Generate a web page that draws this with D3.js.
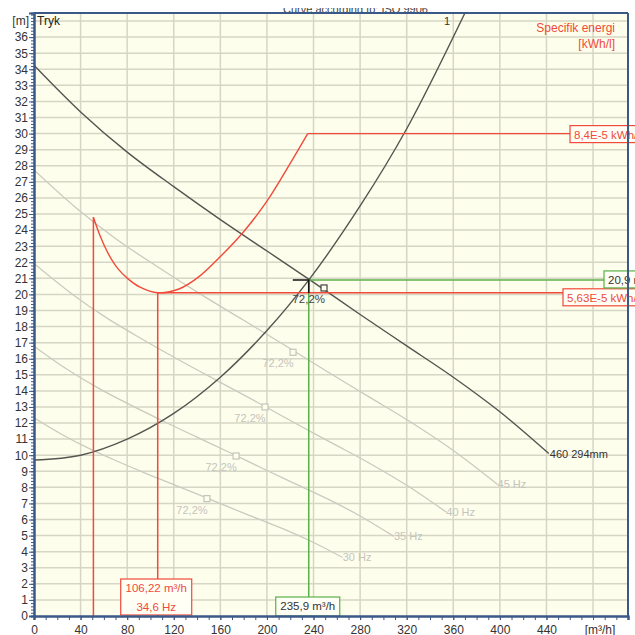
<!DOCTYPE html>
<html><head><meta charset="utf-8">
<script src="https://cdn.jsdelivr.net/npm/d3@7"></script>
<style>
html,body{margin:0;padding:0;background:#fff;}
svg{display:block;font-family:"Liberation Sans",Arial,sans-serif;}
</style></head>
<body><svg id="c" width="635" height="635"></svg>
<script>
// ---- data ----
const xTicks = [0,40,80,120,160,200,240,280,320,360,400,440];
const yTicks = d3.range(0,37);
const pumpQ = [0,40,80,120,160,200,240,280,320,360,400,442];
const pumpH = [34.25,31.35,28.85,26.7,24.65,22.7,20.75,18.75,16.8,14.85,12.7,10.1];
const f45Q = [0,36,72,108,144,180,216,252,288,324,360,398];
const f45H = [27.74,25.39,23.37,21.63,19.97,18.39,16.81,15.19,13.61,12.03,10.29,8.18];
const f40Q = [0,32,64,96,128,160,192,224,256,288,320,354];
const f40H = [21.92,20.06,18.46,17.09,15.78,14.53,13.28,12.0,10.75,9.5,8.13,6.46];
const f35Q = [0,28,56,84,112,140,168,196,224,252,280,309];
const f35H = [16.78,15.36,14.14,13.08,12.08,11.12,10.17,9.19,8.23,7.28,6.22,4.95];
const f30Q = [0,24,48,72,96,120,144,168,192,216,240,265];
const f30H = [12.33,11.29,10.39,9.61,8.87,8.17,7.47,6.75,6.05,5.35,4.57,3.64];
const freqLabels = ["45 Hz","40 Hz","35 Hz","30 Hz"];
const sysQ = [0,40,80,120,160,200,236,280,320,370];
const sysH = [9.7,10.0,11.0,12.6,14.85,17.75,20.9,25.5,30.3,37.5];
const energyQ = [51,57,64,72,81,91,106.22,125,142.5,160,180,200,220,235];
const energyH = [24.8,23.6,22.5,21.6,20.95,20.45,20.1,20.35,21.15,22.35,23.9,25.8,28.15,30.0];
const energyMaxH = 30.0, energyMaxLabel = "8,4E-5 kWh/l";
const minQ = 106.22, minH = 20.1, minLabel1 = "106,22 m³/h", minLabel2 = "34,6 Hz", minEnergyLabel = "5,63E-5 kWh/l";
const startQ = 51;
const opQ = 235.9, opH = 20.9, opQLabel = "235,9 m³/h", opHLabel = "20,9 m";
const bepQ = [249,222.4,198.3,173.5,148.5];
const bepH = [20.4,16.4,13.0,9.95,7.3];
const bepLabel = "72,2%";

// ---- scales ----
const svg = d3.select("#c");
const x = d3.scaleLinear().domain([0,510]).range([34,628]);
const y = d3.scaleLinear().domain([0,37.5]).range([616,13]);
const X0 = x.range()[0], X1 = x.range()[1], Y0 = y.range()[0], Y1 = y.range()[1];

// title (cut at the top)
svg.append("clipPath").attr("id","tclip").append("rect").attr("x",0).attr("y",8).attr("width",635).attr("height",5);
svg.append("text").attr("clip-path","url(#tclip)").attr("x",283).attr("y",13)
  .attr("font-size",11).attr("fill","#444").text("Curve according to: ISO 9906");

// plot background
svg.append("rect").attr("x",X0).attr("y",Y1).attr("width",X1-X0).attr("height",Y0-Y1).attr("fill","#fefeec");

// grid
const grid = svg.append("g").attr("stroke","#d6d6c6").attr("stroke-width",1.5);
yTicks.concat([37]).forEach(v=>{ if(v>0) grid.append("line").attr("x1",X0).attr("x2",X1).attr("y1",y(v)).attr("y2",y(v)); });
d3.range(40,510,40).forEach(v=>grid.append("line").attr("x1",x(v)).attr("x2",x(v)).attr("y1",Y1).attr("y2",Y0));

svg.append("clipPath").attr("id","pclip").append("rect").attr("x",X0).attr("y",Y1).attr("width",X1-X0).attr("height",Y0-Y1);
const plot = svg.append("g").attr("clip-path","url(#pclip)");

const zip = (a,b)=>a.map((v,i)=>[v,b[i]]);
const lineC = d3.line().x(d=>x(d[0])).y(d=>y(d[1])).curve(d3.curveCatmullRom.alpha(0.5));

// frequency curves
const freqSets = [[f45Q,f45H],[f40Q,f40H],[f35Q,f35H],[f30Q,f30H]];
freqSets.forEach(([q,h],i)=>{
  plot.append("path").attr("d",lineC(zip(q,h))).attr("fill","none").attr("stroke","#cacac0").attr("stroke-width",1.3);
  svg.append("text").attr("x",x(q[q.length-1])).attr("y",y(h[h.length-1])+4).attr("font-size",11)
    .attr("fill","#c4c4bc").text(freqLabels[i]);
});

// pump curve
plot.append("path").attr("d",lineC(zip(pumpQ,pumpH))).attr("fill","none").attr("stroke","#555550").attr("stroke-width",1.4);
svg.append("text").attr("x",x(pumpQ[pumpQ.length-1])+1).attr("y",y(pumpH[pumpH.length-1])+4).attr("font-size",11)
  .attr("fill","#333").text("460 294mm");

// system curve
plot.append("path").attr("d",lineC(zip(sysQ,sysH))).attr("fill","none").attr("stroke","#555550").attr("stroke-width",1.4);
svg.append("text").attr("x",447).attr("y",25).attr("font-size",11).attr("fill","#333").attr("text-anchor","middle").text("1");

// BEP squares and labels
bepQ.forEach((q,i)=>{
  const c = i===0 ? "#444" : "#c4c4bc";
  svg.append("rect").attr("x",x(q)-3).attr("y",y(bepH[i])-3).attr("width",6).attr("height",6)
    .attr("fill","#fefeec").attr("stroke",c).attr("stroke-width",1.2);
  if(i>0) svg.append("text").attr("x",x(q)-15).attr("y",y(bepH[i])+15).attr("text-anchor","middle").attr("font-size",11)
    .attr("fill",c).text(bepLabel);
});

// green operating lines
const green = "#5cb04a", red = "#f04a3a";
plot.append("line").attr("x1",x(opQ)).attr("x2",x(opQ)).attr("y1",y(opH)).attr("y2",Y0).attr("stroke",green).attr("stroke-width",1.5);
plot.append("line").attr("x1",x(opQ)).attr("x2",X1).attr("y1",y(opH)).attr("y2",y(opH)).attr("stroke",green).attr("stroke-width",1.5);

// red energy curve and lines
plot.append("path").attr("d",lineC(zip(energyQ,energyH))).attr("fill","none").attr("stroke",red).attr("stroke-width",1.4);
plot.append("line").attr("x1",x(energyQ[energyQ.length-1])).attr("x2",X1).attr("y1",y(energyMaxH)).attr("y2",y(energyMaxH)).attr("stroke",red).attr("stroke-width",1.4);
plot.append("line").attr("x1",x(startQ)).attr("x2",x(startQ)).attr("y1",y(energyH[0])).attr("y2",Y0).attr("stroke",red).attr("stroke-width",1.5);
plot.append("line").attr("x1",x(minQ)).attr("x2",x(minQ)).attr("y1",y(minH)).attr("y2",Y0).attr("stroke",red).attr("stroke-width",1.5);
plot.append("line").attr("x1",x(minQ)).attr("x2",X1).attr("y1",y(minH)).attr("y2",y(minH)).attr("stroke",red).attr("stroke-width",1.5);

// operating point marker
svg.append("path").attr("d",`M${x(opQ)-16},${y(opH)} H${x(opQ)} V${y(opH)+13}`).attr("fill","none").attr("stroke","#111").attr("stroke-width",1.6);
svg.append("text").attr("x",x(opQ)).attr("y",y(opH)+23).attr("text-anchor","middle").attr("font-size",11.5).attr("fill","#444").text(bepLabel);

// label boxes
function box(x0,y0,w,h,col,lines,anchor,tcol){
  svg.append("rect").attr("x",x0).attr("y",y0).attr("width",w).attr("height",h).attr("fill","#fffff6").attr("stroke",col).attr("stroke-width",1.2);
  lines.forEach((t,i)=>{
    const tx = anchor==="middle" ? x0+w/2 : x0+4;
    svg.append("text").attr("x",tx).attr("y",y0+13+i*19).attr("text-anchor",anchor).attr("font-size",11.5).attr("fill",tcol).text(t);
  });
}
box(570,y(energyMaxH)-8,80,17,red,[energyMaxLabel],"start",red);
box(563,y(minH)-4,80,17,red,[minEnergyLabel],"start",red);
box(604,y(opH)-9,50,17,green,[opHLabel],"start","#333");
box(x(minQ)-37,579,71,36,red,[minLabel1,minLabel2],"middle",red);
box(x(opQ)-33,597,64,19,green,[opQLabel],"middle","#333");

// texts in plot
svg.append("text").attr("x",37).attr("y",25).attr("font-size",12).attr("fill","#222").text("Tryk");
svg.append("text").attr("x",615).attr("y",32).attr("text-anchor","end").attr("font-size",12).attr("fill",red).text("Specifik energi");
svg.append("text").attr("x",615).attr("y",48).attr("text-anchor","end").attr("font-size",12).attr("fill",red).text("[kWh/l]");

// axes
const axCol = "#3a5888";
const yMinor = svg.append("g").attr("transform",`translate(${X0},0)`)
  .call(d3.axisLeft(y).tickValues(d3.range(0,37.5,0.2)).tickSize(3).tickFormat(""));
const yAx = svg.append("g").attr("transform",`translate(${X0},0)`)
  .call(d3.axisLeft(y).tickValues(yTicks).tickSize(5).tickPadding(1).tickFormat(d3.format("d")));
const xMinor = svg.append("g").attr("transform",`translate(0,${Y0})`)
  .call(d3.axisBottom(x).tickValues(d3.range(0,510,10)).tickSize(4).tickFormat(""));
const xAx = svg.append("g").attr("transform",`translate(0,${Y0})`)
  .call(d3.axisBottom(x).tickValues(xTicks).tickSize(4).tickPadding(5).tickFormat(d3.format("d")));
[yMinor,yAx,xMinor,xAx].forEach(g=>{
  g.selectAll("path").attr("stroke",axCol).attr("stroke-width",2);
  g.selectAll("line").attr("stroke",axCol).attr("stroke-width",1);
  g.selectAll("text").attr("font-size",12).attr("fill","#333").attr("font-family","Liberation Sans, Arial, sans-serif");
});
// border top & right
svg.append("line").attr("x1",X0).attr("x2",X1).attr("y1",Y1).attr("y2",Y1).attr("stroke",axCol).attr("stroke-width",2);
svg.append("line").attr("x1",X1).attr("x2",X1).attr("y1",Y1).attr("y2",Y0).attr("stroke",axCol).attr("stroke-width",2);

svg.append("text").attr("x",29).attr("y",25).attr("text-anchor","end").attr("font-size",12).attr("fill","#333").text("[m]");
svg.append("text").attr("x",600).attr("y",Y0+18).attr("text-anchor","middle").attr("font-size",12).attr("fill","#333").text("[m³/h]");
</script></body></html>
